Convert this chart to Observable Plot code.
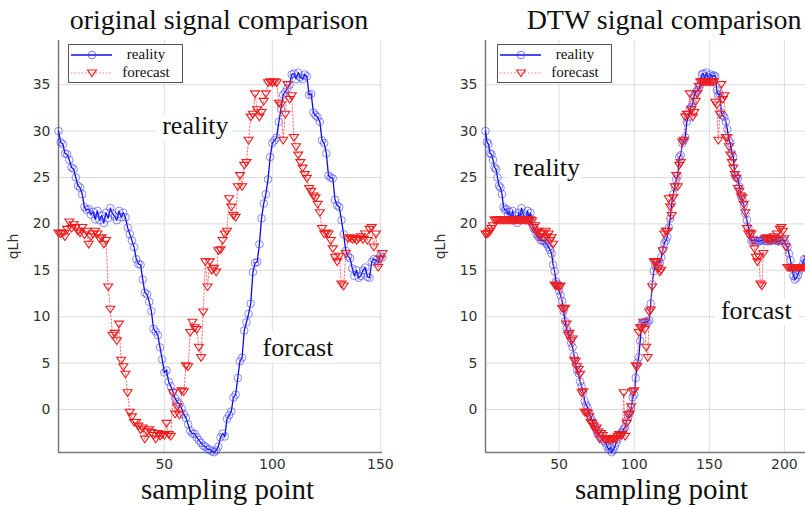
<!DOCTYPE html>
<html><head><meta charset="utf-8">
<script src="https://cdn.jsdelivr.net/npm/d3@7"></script>
<script src="https://cdn.jsdelivr.net/npm/@observablehq/plot@0.6"></script>
<style>
html,body{margin:0;padding:0;overflow:hidden;background:#fff;}
#wrap{position:relative;width:805px;height:505px;overflow:hidden;background:#fff;}
#wrap svg{position:absolute;top:0;}
</style></head>
<body><div id="wrap"></div>
<script>
// ---------------- data ----------------
const titles = ["original signal comparison", "DTW signal comparison"];
const xLabel = "sampling point";
const yLabel = "qLh";
const legendItems = ["reality", "forecast"];
const yTicks = [0, 5, 10, 15, 20, 25, 30, 35];
const leftXTicks = [50, 100, 150];
const rightXTicks = [50, 100, 150, 200];
const leftXDomain = [1, 151];
const rightXDomain = [1, 238];
const yDomain = [-4.63, 39.76];

// original signals (sampling points 1..151)
const leftReality = [
  30.0, 28.8, 28.6, 27.6, 27.5, 26.9, 26.1, 25.9, 25.0, 24.1,
  23.9, 23.2, 21.8, 21.5, 21.6, 21.0, 21.3, 20.5, 21.4, 20.4,
  20.9, 20.1, 21.2, 20.6, 21.7, 21.1, 20.8, 20.4, 21.4, 20.7,
  21.2, 20.7, 19.6, 18.9, 18.2, 17.5, 16.2, 15.7, 15.6, 14.0,
  12.6, 12.4, 11.6, 10.6, 8.7, 8.4, 8.0, 6.7, 5.4, 4.0,
  4.2, 3.0, 2.5, 1.9, 1.2, 0.8, 0.6, 0.1, -0.5, -0.9,
  -1.6, -2.3, -2.6, -2.6, -3.0, -3.3, -3.6, -3.9, -4.0, -4.3,
  -4.3, -4.5, -4.6, -4.4, -4.0, -3.0, -2.6, -2.9, -1.0, -0.6,
  -0.2, 1.3, 1.6, 3.4, 5.2, 5.6, 8.5, 9.4, 10.3, 11.4,
  14.8, 15.8, 15.9, 17.8, 20.6, 22.2, 23.2, 24.8, 27.2, 28.7,
  29.0, 29.3, 31.0, 32.4, 33.9, 34.2, 34.6, 35.0, 36.1, 36.2,
  35.6, 36.3, 35.8, 35.6, 36.1, 35.9, 33.9, 34.0, 32.0, 31.7,
  31.5, 31.0, 29.0, 28.7, 27.6, 25.2, 25.0, 24.9, 22.6, 22.0,
  21.8, 20.4, 18.9, 17.1, 16.5, 16.3, 15.2, 14.4, 15.0, 14.2,
  14.4, 15.0, 15.3, 14.3, 14.2, 15.9, 16.2, 16.1, 15.8, 16.6,
  16.4
];
const leftForecast = [
  19.0, 18.9, 19.0, 18.6, 19.4, 20.2, 19.5, 19.9, 19.6, 19.2,
  19.0, 19.6, 18.8, 19.2, 17.8, 18.6, 18.9, 19.2, 18.9, 18.4,
  18.5, 17.8, 18.2, 13.2, 10.8, 8.0, 8.2, 7.4, 9.2, 5.3,
  4.6, 3.8, 1.8, -0.3, -0.8, -1.4, -1.4, -1.8, -2.2, -2.0,
  -3.2, -2.4, -2.2, -2.5, -2.8, -3.2, -2.6, -2.9, -2.7, -2.8,
  -1.5, -2.7, -2.9, 1.8, -0.5, 0.3, -0.6, 2.0, 1.9, 4.7,
  4.6, 8.3, 9.4, 8.8, 8.6, 6.7, 5.6, 10.5, 15.9, 13.2,
  15.9, 15.0, 15.2, 14.8, 17.1, 17.2, 18.2, 18.9, 19.2, 22.7,
  21.8, 20.9, 20.7, 24.0, 25.2, 24.0, 26.3, 26.6, 29.0, 31.5,
  31.8, 34.0, 32.3, 31.5, 32.0, 33.2, 34.0, 35.2, 35.3, 35.2,
  35.3, 35.2, 33.0, 32.8, 29.0, 31.8, 35.0, 33.4, 33.8, 29.3,
  28.3, 27.4, 26.6, 26.0, 25.3, 24.9, 23.8, 23.5, 23.0, 22.8,
  22.1, 21.2, 19.5, 18.9, 19.0, 18.9, 18.2, 17.3, 16.4, 15.9,
  16.5, 13.5, 13.3, 16.8, 18.4, 18.5, 18.3, 18.4, 18.2, 18.4,
  18.6, 18.3, 18.9, 18.2, 19.4, 19.6, 17.5, 18.9, 15.3, 16.2,
  16.8
];

// DTW-aligned signals (path points 1..237)
const dtwReality = [
  30.0, 28.8, 28.6, 27.6, 27.5, 26.9, 26.1, 25.9, 25.0, 24.1,
  23.9, 23.2, 21.8, 21.5, 21.6, 21.0, 21.3, 20.5, 21.4, 20.4,
  20.9, 20.1, 21.2, 20.6, 21.7, 21.1, 20.8, 20.4, 21.4, 20.7,
  21.2, 20.0, 19.5, 19.4, 18.9, 18.6, 18.6, 18.2, 18.2, 18.2,
  18.0, 17.8, 17.5, 17.2, 16.8, 15.6, 14.9, 13.8, 13.5, 12.8,
  12.3, 11.7, 10.6, 9.5, 8.7, 8.4, 8.0, 7.2, 6.7, 5.8,
  4.9, 4.2, 3.9, 3.0, 2.5, 1.8, 0.9, 0.5, 0.2, -0.4,
  -0.8, -1.2, -1.6, -1.9, -2.3, -2.6, -2.8, -3.0, -3.2, -3.4,
  -3.6, -4.0, -4.3, -4.1, -4.6, -4.4, -4.0, -3.6, -3.2, -2.9,
  -2.6, -2.4, -2.1, -1.9, -1.2, -0.8, -0.4, 0.2, 1.3, 1.6,
  3.4, 5.0, 5.6, 7.4, 9.2, 9.4, 9.4, 9.5, 9.4, 9.6,
  11.4, 13.5, 14.9, 15.5, 15.8, 15.9, 15.8, 16.4, 17.2, 17.9,
  18.2, 18.6, 19.6, 20.6, 22.2, 23.2, 24.0, 24.8, 25.2, 27.2,
  27.4, 28.7, 29.0, 29.3, 31.0, 31.5, 32.4, 32.6, 33.0, 33.9,
  34.2, 34.4, 34.6, 35.0, 36.1, 36.2, 35.6, 36.3, 35.8, 35.6,
  36.1, 35.9, 36.0, 35.9, 34.4, 33.9, 34.0, 32.0, 31.7, 31.5,
  31.0, 30.2, 29.0, 28.7, 27.6, 27.2, 25.2, 25.0, 24.9, 24.0,
  23.0, 22.6, 22.0, 21.1, 20.4, 19.6, 18.9, 18.2, 18.2, 18.3,
  18.2, 18.2, 18.1, 18.2, 18.2, 18.3, 18.2, 18.2, 18.1, 18.2,
  18.2, 18.3, 18.2, 18.4, 18.2, 18.1, 18.2, 18.2, 18.3, 18.2,
  17.8, 17.5, 16.8, 16.1, 15.2, 14.4, 14.0, 14.2, 14.5, 15.0,
  15.3, 15.6, 16.2, 16.1, 15.9, 15.8, 16.2, 16.6, 16.4, 16.5,
  16.3, 16.6, 16.4, 16.2, 16.5, 16.7, 16.4, 16.6, 16.5, 16.4,
  16.6, 16.5, 16.4, 16.6, 16.5, 16.4, 16.4
];
const dtwForecast = [
  18.9, 18.9, 19.0, 19.2, 19.5, 19.8, 20.4, 20.4, 20.4, 20.4,
  20.4, 20.4, 20.4, 20.4, 20.4, 20.4, 20.4, 20.4, 20.4, 20.4,
  20.4, 20.4, 20.4, 20.4, 20.4, 20.4, 20.4, 20.4, 20.4, 20.4,
  20.4, 20.3, 19.6, 19.8, 19.1, 19.2, 18.6, 18.9, 19.0, 18.4,
  19.2, 18.6, 18.9, 18.2, 18.5, 17.8, 13.4, 13.3, 13.3, 13.2,
  13.3, 10.9, 10.8, 10.9, 9.2, 8.0, 8.2, 7.4, 7.6, 5.3,
  5.2, 4.6, 4.3, 3.8, 1.8, 1.9, -0.3, -0.3, -0.4, -0.8,
  -1.4, -1.5, -1.8, -2.2, -2.0, -2.4, -3.2, -2.6, -2.8, -3.2,
  -3.3, -3.2, -3.2, -3.3, -3.2, -3.2, -3.1, -3.2, -2.9, -2.7,
  -2.8, -2.7, 1.8, -2.9, -1.5, -0.6, -0.5, 0.3, 1.9, 2.0,
  4.7, 4.6, 8.3, 8.8, 8.8, 9.4, 8.6, 6.7, 5.6, 10.5,
  10.7, 13.2, 15.9, 15.9, 15.9, 15.2, 14.8, 15.0, 17.1, 18.9,
  19.2, 19.2, 22.7, 21.8, 20.9, 22.8, 24.0, 25.2, 24.0, 26.3,
  26.6, 28.8, 29.0, 31.5, 31.8, 31.8, 34.0, 32.3, 31.5, 32.0,
  33.2, 34.0, 34.8, 35.3, 35.3, 35.3, 35.3, 35.3, 35.3, 35.3,
  35.3, 35.3, 35.3, 33.1, 32.8, 29.0, 31.8, 35.0, 33.4, 33.8,
  29.3, 29.3, 28.3, 27.4, 26.6, 26.0, 25.3, 24.9, 23.8, 23.5,
  23.0, 22.8, 22.1, 21.2, 19.5, 18.9, 19.0, 18.9, 18.2, 17.3,
  16.4, 15.9, 16.5, 13.5, 13.3, 16.8, 18.4, 18.5, 18.3, 18.4,
  18.2, 18.4, 18.6, 18.3, 18.9, 18.2, 19.4, 19.6, 19.2, 18.4,
  17.5, 15.3, 15.3, 15.3, 15.3, 15.3, 15.3, 15.3, 15.3, 15.3,
  15.3, 15.3, 15.3, 15.3, 15.2, 16.2, 16.8, 16.8, 16.5, 16.8,
  16.6, 16.8, 16.7, 16.8, 16.5, 16.8, 16.6, 16.7, 16.8, 16.5,
  16.8, 16.6, 16.7, 16.8, 16.6, 16.8, 16.8
];

// in-plot annotations (data coordinates)
const leftNotes = [
  {label: "reality", x: 49, y: 30.6},
  {label: "forcast", x: 95.5, y: 6.7}
];
const rightNotes = [
  {label: "reality", x: 19.7, y: 26.1},
  {label: "forcast", x: 157.7, y: 10.7}
];

// ---------------- styles ----------------
const BLUE = "#0c0ce8";
const BLUE_MARK = "#3a3aff";
const RED = "#ee1c1c";
const RED_LINE = "#ff7070";
const SERIF = "'Liberation Serif', 'Times New Roman', serif";
const SANS = "'DejaVu Sans', Verdana, sans-serif";

const triDown = {
  draw(ctx, size) {
    const r = Math.sqrt(size / Math.PI);
    ctx.moveTo(-r * 1.25, -r * 0.85);
    ctx.lineTo(r * 1.25, -r * 0.85);
    ctx.lineTo(0, r * 1.0);
    ctx.closePath();
  }
};

function toRows(arr) { return arr.map((v, i) => ({x: i + 1, y: v})); }

function panel({title, reality, forecast, xDomain, xTicks, notes, width, innerWidth, titleDx, labelDx}) {
  const R = toRows(reality), F = toRows(forecast);
  return Plot.plot({
    width, height: 505,
    marginLeft: 58, marginRight: width - 58 - innerWidth,
    marginTop: 40, marginBottom: 53,
    style: {background: "transparent", color: "#262626", overflow: "visible"},
    x: {domain: xDomain},
    y: {domain: yDomain},
    marks: [
      Plot.gridY(yTicks, {stroke: "#dcdcdc", strokeOpacity: 1, strokeWidth: 1}),
      Plot.gridX(xTicks, {stroke: "#dcdcdc", strokeOpacity: 1, strokeWidth: 1}),
      Plot.ruleX([xDomain[0]], {stroke: "#7a7a7a", strokeWidth: 1.5}),
      Plot.ruleY([yDomain[0]], {stroke: "#7a7a7a", strokeWidth: 1.5}),
      Plot.axisY(yTicks, {tickSize: 0, tickPadding: 8, fontSize: 14, fontFamily: SANS, fill: "#333",
        label: yLabel, labelAnchor: "center", labelOffset: 50, labelArrow: "none"}),
      Plot.axisX(xTicks, {tickSize: 0, tickPadding: 7, fontSize: 14, fontFamily: SANS, fill: "#333", label: null}),
      Plot.line(R, {x: "x", y: "y", stroke: BLUE, strokeWidth: 1.3}),
      Plot.dot(R, {x: "x", y: "y", r: 3.8, stroke: BLUE_MARK, strokeWidth: 1, strokeOpacity: 0.6}),
      Plot.line(F, {x: "x", y: "y", stroke: RED_LINE, strokeWidth: 1, strokeDasharray: "1.5,2"}),
      Plot.dot(F, {x: "x", y: "y", r: 3.6, symbol: triDown, stroke: RED, strokeWidth: 1.1}),
      Plot.text(notes, {x: "x", y: "y", text: "label", textAnchor: "start", fontSize: 26, fontFamily: SERIF,
        fill: "#111", stroke: "white", strokeWidth: 14}),
      Plot.text([title], {frameAnchor: "top", lineAnchor: "bottom", dy: -12, dx: titleDx, text: d => d,
        fontSize: 28, fontFamily: SERIF, fill: "#111"}),
      Plot.text([xLabel], {frameAnchor: "bottom", lineAnchor: "bottom", dy: 46, dx: labelDx, text: d => d,
        fontSize: 29, fontFamily: SERIF, fill: "#111"})
    ]
  });
}

function legend(left, top) {
  const svg = d3.create("svg").attr("width", 116).attr("height", 40)
    .style("position", "absolute").style("left", left + "px").style("top", top + "px");
  svg.append("rect").attr("x", 0.5).attr("y", 0.5).attr("width", 114).attr("height", 38)
    .attr("fill", "#fff").attr("stroke", "#555").attr("stroke-width", 1);
  svg.append("line").attr("x1", 3).attr("x2", 44).attr("y1", 11).attr("y2", 11)
    .attr("stroke", BLUE).attr("stroke-width", 1.3);
  svg.append("circle").attr("cx", 24).attr("cy", 11).attr("r", 3.8)
    .attr("fill", "none").attr("stroke", BLUE_MARK).attr("stroke-opacity", 0.7);
  svg.append("line").attr("x1", 3).attr("x2", 44).attr("y1", 29).attr("y2", 29)
    .attr("stroke", RED_LINE).attr("stroke-width", 1).attr("stroke-dasharray", "1.5,2");
  svg.append("path").attr("transform", "translate(24,29)")
    .attr("d", d3.symbol(triDown, Math.PI * 3.6 * 3.6)())
    .attr("fill", "none").attr("stroke", RED).attr("stroke-width", 1.1);
  const t = svg.append("g").attr("font-family", SERIF).attr("font-size", 15).attr("fill", "#111")
    .attr("text-anchor", "middle");
  t.append("text").attr("x", 78).attr("y", 15).text(legendItems[0]);
  t.append("text").attr("x", 78).attr("y", 33).text(legendItems[1]);
  return svg.node();
}

const wrap = document.getElementById("wrap");
const left = panel({title: titles[0], reality: leftReality, forecast: leftForecast,
  xDomain: leftXDomain, xTicks: leftXTicks, notes: leftNotes, width: 400, innerWidth: 324, titleDx: -1.5, labelDx: 7});
left.style.left = "0px";
wrap.appendChild(left);
const right = panel({title: titles[1], reality: dtwReality, forecast: dtwForecast,
  xDomain: rightXDomain, xTicks: rightXTicks, notes: rightNotes, width: 432, innerWidth: 356, titleDx: 0.5, labelDx: -2});
right.style.left = "427px";
wrap.appendChild(right);
wrap.appendChild(legend(68, 44));
wrap.appendChild(legend(497, 44));
</script>
</body></html>
